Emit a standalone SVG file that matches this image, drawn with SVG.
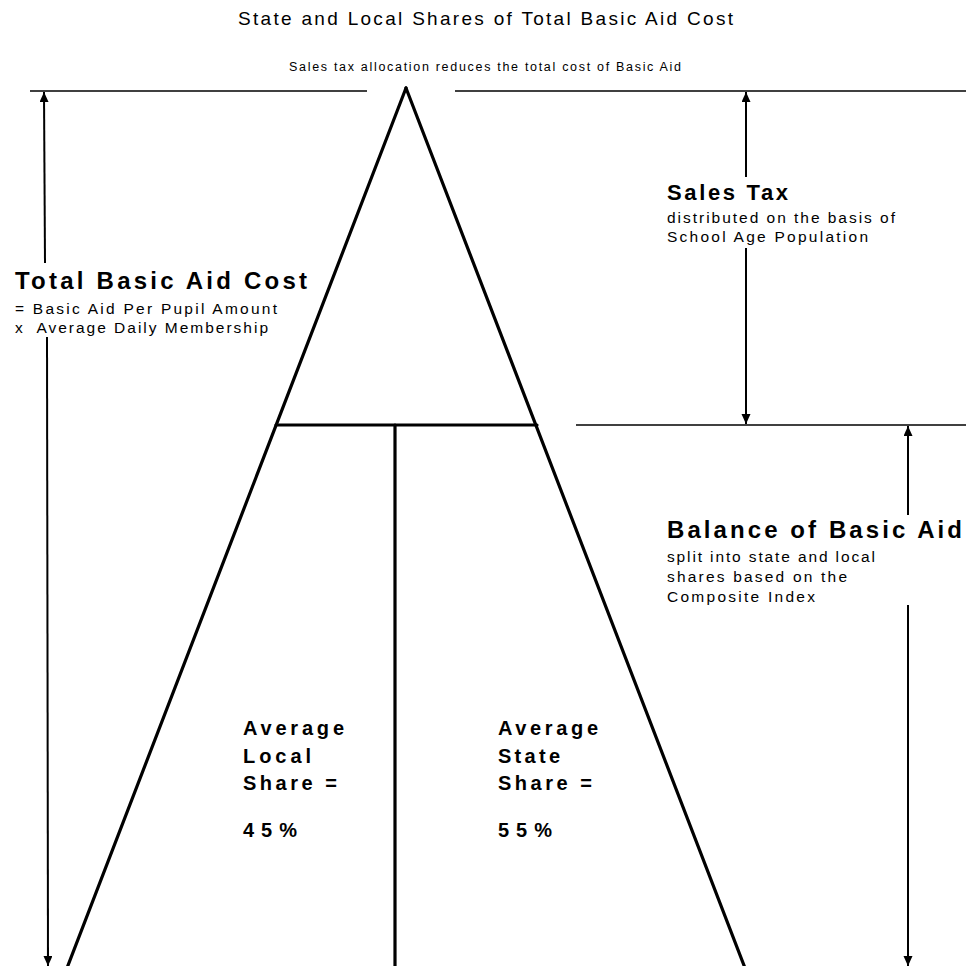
<svg xmlns="http://www.w3.org/2000/svg" width="966" height="966" viewBox="0 0 966 966">
<defs>
<marker id="ah" markerUnits="userSpaceOnUse" markerWidth="11" markerHeight="10" refX="10" refY="4.5" orient="auto">
<path d="M0,0 L10,4.5 L0,9 z" fill="#000"/>
</marker>
<style>
text{font-family:"Liberation Sans",Arial,sans-serif;fill:#000}
.b{font-weight:bold}
.ref{stroke:#000;stroke-width:1.5;fill:none}
.tri{stroke:#000;stroke-width:3.2;fill:none;stroke-linecap:round}
.arr{stroke:#000;stroke-width:2;fill:none;marker-end:url(#ah)}
</style>
</defs>
<rect width="966" height="966" fill="#fff"/>

<g id="title">
<text x="238" y="25" font-size="19" textLength="495" lengthAdjust="spacing">State and Local Shares of Total Basic Aid Cost</text>
<text x="289" y="71" font-size="12.5" textLength="392" lengthAdjust="spacing">Sales tax allocation reduces the total cost of Basic Aid</text>
</g>

<g id="reference-lines">
<line class="ref" x1="30" y1="91" x2="367" y2="91"/>
<line class="ref" x1="455" y1="91" x2="966" y2="91"/>
<line class="ref" x1="576" y1="425" x2="966" y2="425"/>
</g>

<g id="triangle">
<line class="tri" x1="406" y1="88" x2="67" y2="968"/>
<line class="tri" x1="406" y1="88" x2="745" y2="968"/>
<line class="tri" x1="276" y1="425" x2="537" y2="425"/>
<line class="tri" x1="395" y1="425" x2="395" y2="968" stroke-width="2.6"/>
</g>

<g id="connectors">
<line class="arr" x1="45" y1="263" x2="44" y2="92"/>
<line class="arr" x1="47" y1="337" x2="48" y2="966"/>
<line class="arr" x1="746" y1="177" x2="746" y2="92"/>
<line class="arr" x1="746" y1="248" x2="746" y2="424"/>
<line class="arr" x1="908" y1="515" x2="908" y2="426"/>
<line class="arr" x1="908" y1="605" x2="908" y2="966"/>
</g>

<g id="total-basic-aid-cost">
<text class="b" x="15" y="289" font-size="24" textLength="292" lengthAdjust="spacing">Total Basic Aid Cost</text>
<text x="15" y="314" font-size="15.5" textLength="262" lengthAdjust="spacing">= Basic Aid Per Pupil Amount</text>
<text x="15" y="333" font-size="15.5" textLength="253" lengthAdjust="spacing" xml:space="preserve">x  Average Daily Membership</text>
</g>

<g id="sales-tax">
<text class="b" x="667" y="200" font-size="22" textLength="121" lengthAdjust="spacing">Sales Tax</text>
<text x="667" y="223" font-size="15.5" textLength="228" lengthAdjust="spacing">distributed on the basis of</text>
<text x="667" y="242" font-size="15.5" textLength="201" lengthAdjust="spacing">School Age Population</text>
</g>

<g id="balance-of-basic-aid">
<text class="b" x="667" y="538" font-size="24" textLength="295" lengthAdjust="spacing">Balance of Basic Aid</text>
<text x="667" y="562" font-size="15.5" textLength="208" lengthAdjust="spacing">split into state and local</text>
<text x="667" y="582" font-size="15.5" textLength="180" lengthAdjust="spacing">shares based on the</text>
<text x="667" y="602" font-size="15.5" textLength="148" lengthAdjust="spacing">Composite Index</text>
</g>

<g id="local-share">
<text class="b" x="243" y="735" font-size="20" textLength="101" lengthAdjust="spacing">Average</text>
<text class="b" x="243" y="763" font-size="20" textLength="68" lengthAdjust="spacing">Local</text>
<text class="b" x="243" y="790" font-size="20" textLength="94" lengthAdjust="spacing">Share =</text>
<text class="b" x="243" y="837" font-size="20" textLength="54" lengthAdjust="spacing">45%</text>
</g>

<g id="state-share">
<text class="b" x="498" y="735" font-size="20" textLength="100" lengthAdjust="spacing">Average</text>
<text class="b" x="498" y="763" font-size="20" textLength="62" lengthAdjust="spacing">State</text>
<text class="b" x="498" y="790" font-size="20" textLength="94" lengthAdjust="spacing">Share =</text>
<text class="b" x="498" y="837" font-size="20" textLength="54" lengthAdjust="spacing">55%</text>
</g>
</svg>
